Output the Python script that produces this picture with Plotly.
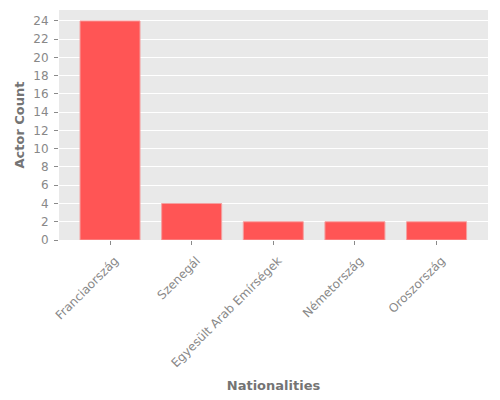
import plotly.graph_objects as go

nationalities = ["Franciaország", "Szenegál", "Egyesült Arab Emírségek", "Németország", "Oroszország"]
actor_counts = [24, 4, 2, 2, 2]

fig = go.Figure(go.Bar(
    x=nationalities, y=actor_counts,
    marker=dict(color="#FF5555", line=dict(color="#F4A0A0", width=1)),
))

fig.update_layout(
    width=492, height=392,
    margin=dict(l=51, r=12, t=2, b=160),
    paper_bgcolor="white", plot_bgcolor="#E9E9E9",
    font=dict(family="DejaVu Sans", color="#7F7F7F", size=12),
    bargap=0.265,
    showlegend=False,
)
fig.update_xaxes(
    range=[-0.625, 4.63], tickangle=-45, showgrid=False, automargin=False,
    ticks="outside", ticklen=4, tickcolor="#8A8A8A",
    ticklabelstandoff=4, ticklabelshift=5,
    title=dict(text="<b>Nationalities</b>", font=dict(size=13, color="#747474"), standoff=11),
    tickfont=dict(size=12, color="#888888"),
)
fig.update_yaxes(
    range=[0, 25.2], dtick=2, gridcolor="white", gridwidth=1, zeroline=False, automargin=False,
    ticks="outside", ticklen=4, tickcolor="#8A8A8A",
    ticklabelstandoff=3,
    title=dict(text="<b>Actor Count</b>", font=dict(size=13, color="#747474"), standoff=5),
    tickfont=dict(size=12, color="#888888"),
)

fig.write_html("out.html")
